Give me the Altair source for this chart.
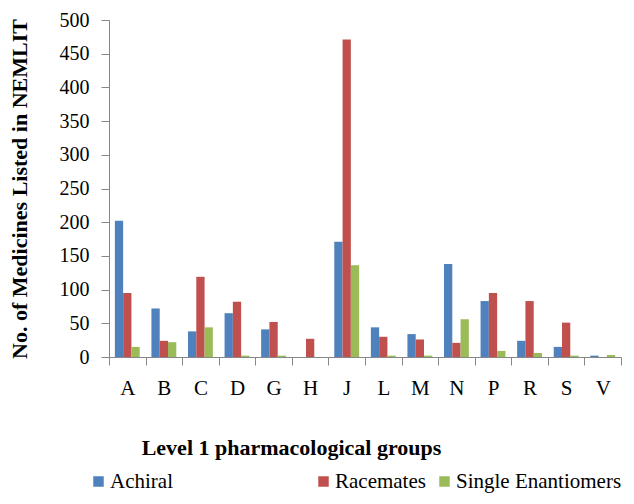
import altair as alt
import pandas as pd

groups = ["A", "B", "C", "D", "G", "H", "J", "L", "M", "N", "P", "R", "S", "V"]
achiral = [202, 72, 38, 65, 41, 0, 171, 44, 34, 138, 83, 24, 15, 2]
racemates = [95, 24, 119, 82, 52, 27, 471, 30, 26, 21, 95, 83, 51, 0]
single = [15, 22, 44, 2, 2, 0, 136, 2, 2, 56, 9, 6, 2, 3]
series = ["Achiral", "Racemates", "Single Enantiomers"]
colors = ["#4F81BD", "#C0504D", "#9BBB59"]
y_ticks = list(range(0, 501, 50))

rows = []
for s, vals in zip(series, [achiral, racemates, single]):
    for g, v in zip(groups, vals):
        rows.append({"group": g, "series": s, "value": v})
df = pd.DataFrame(rows)

FONT = "Liberation Serif"
PAD = "\u00a0" * 25 + "\u200b"

chart = alt.Chart(df).mark_bar().encode(
    x=alt.X(
        "group:N",
        sort=groups,
        scale=alt.Scale(paddingInner=0, paddingOuter=0),
        axis=alt.Axis(
            title="Level 1 pharmacological groups",
            labelAngle=0,
            tickBand="extent",
            tickSize=8,
            labelPadding=12,
            labelFont=FONT,
            labelFontSize=21,
            labelColor="#000000",
            domainColor="#868686",
            tickColor="#868686",
            titleFont=FONT,
            titleFontSize=22,
            titleFontWeight="bold",
            titleColor="#000000",
            titleX=182,
            titleY=90,
            titleAnchor="middle",
            titleAlign="center",
            titleBaseline="middle",
        ),
    ),
    xOffset=alt.XOffset(
        "series:N", sort=series, scale=alt.Scale(paddingInner=0, paddingOuter=0.706)
    ),
    y=alt.Y(
        "value:Q",
        scale=alt.Scale(domain=[0, 500], nice=False),
        axis=alt.Axis(
            title="No. of Medicines Listed in NEMLIT",
            values=y_ticks,
            grid=False,
            tickSize=8,
            labelPadding=12,
            labelFont=FONT,
            labelFontSize=20,
            labelColor="#000000",
            domainColor="#868686",
            tickColor="#868686",
            titleFont=FONT,
            titleFontSize=22,
            titleFontWeight="bold",
            titleColor="#000000",
            titlePadding=28,
        ),
    ),
    color=alt.Color(
        "series:N",
        sort=series,
        scale=alt.Scale(domain=series, range=colors),
        legend=alt.Legend(
            title=None,
            orient="none",
            direction="horizontal",
            legendX=-21,
            legendY=451,
            symbolType="square",
            symbolSize=110,
            symbolStrokeWidth=0,
            symbolOpacity=1,
            labelFont=FONT,
            labelFontSize=21,
            labelColor="#000000",
            labelOffset=1,
            labelLimit=400,
            columnPadding=8,
            gridAlign="none",
            labelExpr=f"datum.label == 'Achiral' ? 'Achiral{PAD}' : datum.label",
        ),
    ),
).properties(
    width=512,
    height=337,
    padding={"left": 101, "top": 12, "right": 5, "bottom": 139},
    autosize=alt.AutoSizeParams(type="none"),
).configure(font=FONT).configure_view(stroke=None)

chart.save("out.html", embed_options={"renderer": "svg", "actions": False})
